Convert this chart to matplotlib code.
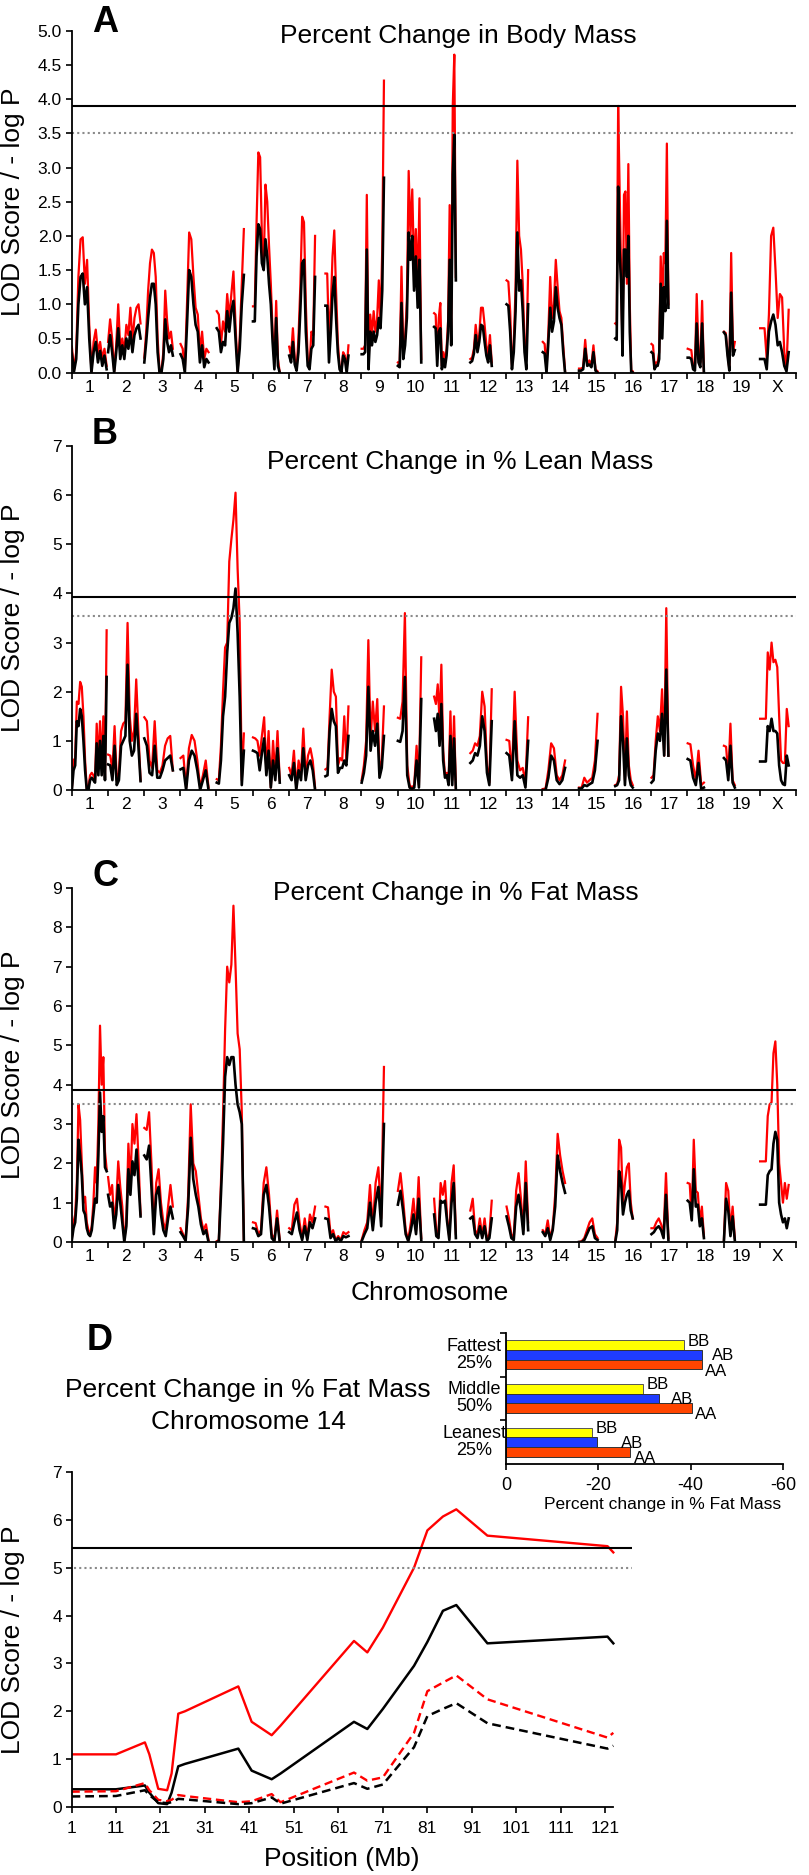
import numpy as np
import matplotlib
matplotlib.use("Agg")
import matplotlib.pyplot as plt

plt.rcParams['font.family'] = ['Liberation Sans', 'DejaVu Sans']
plt.rcParams['axes.unicode_minus'] = False

# --- Genome scan data (LOD per chromosome) ---
CHROMS = ['1', '2', '3', '4', '5', '6', '7', '8', '9', '10',
          '11', '12', '13', '14', '15', '16', '17', '18', '19', 'X']
CHR_LEN_MB = [195, 182, 160, 157, 152, 150, 145, 129, 125, 131,
              122, 120, 121, 125, 104, 98, 95, 91, 61, 160]

# A: percent change in body mass
A_RED = [
    [0.38, 0.05, 0.3, 1.4, 1.95, 1.98, 1.3, 1.65, 0.7, 0.02, 0.45, 0.63, 0.3, 0.45, 0.2, 0.35, 0.1],
    [0.45, 0.78, 0.5, 0.02, 0.4, 1.0, 0.35, 0.5, 0.3, 0.7, 0.55, 0.95, 0.45, 0.8, 0.95, 1.0, 0.72],
    [0.22, 0.6, 1.2, 1.6, 1.8, 1.75, 1.4, 0.5, 0.02, 0.02, 0.3, 1.2, 0.75, 0.5, 0.6, 0.35],
    [0.42, 0.35, 0.05, 1.0, 2.05, 1.95, 1.4, 0.95, 0.85, 0.3, 0.6, 0.2, 0.35, 0.3],
    [0.9, 0.85, 0.4, 0.75, 0.6, 1.15, 0.8, 1.15, 1.48, 0.7, 0.02, 0.5, 1.3, 2.1],
    [0.97, 0.97, 2.2, 3.22, 3.15, 2.0, 1.55, 2.75, 2.5, 1.85, 1.3, 0.6, 0.15, 1.05, 0.2, 0.0],
    [0.38, 0.25, 0.65, 0.2, 0.05, 0.5, 1.25, 2.28, 2.2, 1.0, 0.2, 0.1, 0.6, 0.55, 2.0],
    [1.45, 1.45, 0.5, 0.95, 1.7, 2.08, 1.2, 0.45, 0.1, 0.0, 0.3, 0.25, 0.05, 0.4],
    [0.35, 0.35, 0.4, 2.6, 0.15, 0.85, 0.55, 0.9, 0.6, 0.78, 1.35, 0.7, 1.8, 4.27],
    [0.15, 0.12, 1.55, 0.3, 0.5, 1.05, 2.95, 2.0, 2.68, 1.5, 2.1, 1.2, 2.55, 0.2],
    [0.87, 0.85, 0.2, 0.8, 1.02, 0.1, 0.3, 0.15, 0.35, 0.75, 2.45, 0.6, 3.9, 4.65, 1.4],
    [0.2, 0.22, 0.35, 0.7, 0.45, 0.55, 0.95, 0.95, 0.7, 0.4, 0.25, 0.55, 0.15],
    [1.35, 1.33, 0.9, 0.1, 0.4, 1.25, 3.1, 2.0, 1.8, 1.3, 0.4, 0.25, 1.5],
    [0.45, 0.42, 0.05, 0.6, 1.4, 0.8, 1.0, 1.65, 1.25, 0.9, 0.8, 0.4, 0.02],
    [0.06, 0.06, 0.08, 0.48, 0.12, 0.18, 0.1, 0.4, 0.05, 0.02],
    [0.72, 0.7, 3.9, 2.7, 1.5, 0.3, 2.6, 2.65, 1.3, 3.05, 1.0, 0.0, 0.02],
    [0.42, 0.4, 0.1, 0.15, 0.15, 0.3, 1.7, 1.0, 1.75, 1.6, 3.35, 1.0],
    [0.35, 0.34, 0.33, 0.1, 0.05, 1.15, 0.3, 0.15, 1.05, 0.02],
    [0.6, 0.58, 0.3, 0.05, 1.75, 0.3, 0.45],
    [0.65, 0.65, 0.65, 0.2, 0.85, 2.0, 2.12, 1.5, 0.8, 1.15, 1.1, 0.3, 0.05, 0.92],
]
A_BLACK = [
    [0.28, 0.02, 0.2, 1.0, 1.4, 1.45, 1.0, 1.25, 0.5, 0.0, 0.3, 0.45, 0.15, 0.32, 0.1, 0.25, 0.05],
    [0.3, 0.55, 0.3, 0.0, 0.3, 0.65, 0.2, 0.4, 0.2, 0.5, 0.35, 0.6, 0.3, 0.55, 0.65, 0.7, 0.5],
    [0.15, 0.45, 0.8, 1.1, 1.3, 1.3, 1.0, 0.3, 0.0, 0.0, 0.2, 0.78, 0.45, 0.3, 0.4, 0.25],
    [0.27, 0.2, 0.0, 0.7, 1.5, 1.4, 1.0, 0.7, 0.6, 0.15, 0.4, 0.08, 0.2, 0.15],
    [0.65, 0.6, 0.3, 0.45, 0.4, 0.9, 0.6, 0.9, 1.05, 0.5, 0.0, 0.35, 1.0, 1.43],
    [0.75, 0.75, 1.7, 2.17, 2.1, 1.6, 1.5, 1.95, 1.7, 1.3, 1.0, 0.45, 0.05, 0.8, 0.1, 0.0],
    [0.25, 0.15, 0.45, 0.12, 0.03, 0.3, 0.9, 1.6, 1.65, 0.6, 0.1, 0.05, 0.35, 0.4, 1.4],
    [0.98, 0.98, 0.15, 0.6, 1.15, 1.4, 0.8, 0.3, 0.05, 0.0, 0.25, 0.2, 0.0, 0.25],
    [0.27, 0.27, 0.3, 1.8, 0.05, 0.6, 0.4, 0.6, 0.45, 0.55, 0.8, 0.65, 1.2, 2.85],
    [0.1, 0.08, 1.02, 0.2, 0.4, 0.8, 2.05, 1.65, 2.0, 1.2, 1.7, 0.95, 1.65, 0.15],
    [0.67, 0.65, 0.1, 0.6, 0.65, 0.05, 0.2, 0.08, 0.25, 0.6, 1.65, 0.4, 2.9, 3.48, 1.35],
    [0.15, 0.17, 0.28, 0.55, 0.3, 0.45, 0.7, 0.68, 0.45, 0.25, 0.15, 0.4, 0.1],
    [1.0, 0.98, 0.6, 0.05, 0.3, 0.9, 2.05, 1.2, 1.35, 0.9, 0.3, 0.05, 1.0],
    [0.3, 0.28, 0.0, 0.45, 0.95, 0.6, 0.75, 1.25, 0.95, 0.8, 0.7, 0.3, 0.0],
    [0.03, 0.03, 0.05, 0.35, 0.1, 0.12, 0.08, 0.3, 0.03, 0.0],
    [0.5, 0.48, 2.72, 1.8, 1.3, 0.25, 1.8, 1.8, 1.4, 2.0, 0.6, 0.0, 0.0],
    [0.3, 0.28, 0.05, 0.1, 0.1, 0.2, 1.3, 0.5, 1.25, 0.9, 2.22, 0.95],
    [0.22, 0.22, 0.2, 0.05, 0.03, 0.72, 0.15, 0.08, 0.72, 0.0],
    [0.59, 0.55, 0.25, 0.03, 1.17, 0.25, 0.33],
    [0.2, 0.2, 0.2, 0.05, 0.6, 0.75, 0.85, 0.7, 0.4, 0.45, 0.3, 0.1, 0.02, 0.3],
]

# B: percent change in % lean mass
B_RED = [
    [0.02, 0.6, 0.65, 1.8, 1.75, 2.2, 2.1, 1.5, 0.6, 0.02, 0.05, 0.3, 0.35, 0.3, 0.2, 1.35, 0.5, 1.4, 0.5, 1.5, 0.25, 3.25],
    [0.72, 0.7, 0.4, 1.3, 0.2, 0.35, 1.2, 1.35, 1.4, 3.4, 1.5, 1.0, 1.2, 2.25, 1.2, 0.2],
    [1.48, 1.4, 0.6, 0.45, 1.4, 0.4, 0.35, 0.5, 0.9, 1.05, 1.1, 0.4],
    [0.65, 0.7, 0.05, 0.85, 1.12, 1.0, 0.6, 0.05, 0.3, 0.6, 0.05],
    [0.22, 0.2, 0.9, 2.0, 2.9, 3.0, 4.65, 5.1, 5.5, 6.05, 4.5, 3.4, 0.2, 1.15],
    [1.07, 1.05, 1.0, 0.7, 1.1, 1.48, 0.4, 1.2, 0.05, 1.0, 0.3, 1.2, 0.2],
    [0.45, 0.3, 0.8, 0.05, 0.6, 0.3, 1.25, 0.3, 0.7, 0.85, 0.6, 0.05],
    [0.42, 0.45, 1.5, 2.45, 2.0, 1.9, 0.5, 0.65, 0.6, 1.5, 0.6, 1.7],
    [0.2, 0.5, 1.0, 3.05, 1.0, 1.8, 1.2, 1.85, 0.4, 0.6, 1.7],
    [1.47, 1.45, 1.8, 3.6, 0.5, 0.1, 0.05, 0.1, 0.9, 0.1, 2.7],
    [1.9, 1.75, 2.15, 1.4, 2.55, 0.8, 0.3, 0.35, 0.2, 1.6, 0.2, 1.5, 0.05],
    [0.75, 0.8, 0.95, 0.9, 1.1, 2.0, 1.7, 0.5, 0.15, 2.05],
    [1.02, 1.0, 0.3, 2.0, 0.6, 0.4, 0.45, 0.15, 1.48],
    [0.02, 0.03, 0.4, 0.95, 0.85, 0.3, 0.2, 0.3, 0.6],
    [0.05, 0.05, 0.25, 0.15, 0.2, 0.25, 0.6, 1.55],
    [0.1, 0.12, 0.3, 2.1, 1.5, 0.2, 1.6, 0.5, 0.2, 0.1],
    [0.25, 0.3, 1.0, 1.5, 1.2, 2.05, 0.7, 3.7, 0.7],
    [0.95, 0.93, 0.5, 0.2, 0.8, 0.1, 0.15],
    [0.9, 0.88, 0.3, 1.35, 0.2, 0.1],
    [1.45, 1.45, 1.45, 1.45, 2.8, 2.45, 3.0, 2.6, 2.65, 2.5, 1.5, 0.6, 0.55, 0.55, 1.65, 1.3],
]
B_BLACK = [
    [0.0, 0.4, 0.5, 1.4, 1.3, 1.65, 1.5, 1.0, 0.4, 0.0, 0.0, 0.2, 0.25, 0.2, 0.15, 0.95, 0.3, 1.0, 0.3, 1.1, 0.2, 2.3],
    [0.52, 0.5, 0.2, 0.9, 0.1, 0.2, 0.9, 1.0, 1.1, 2.55, 1.0, 0.7, 0.8, 1.55, 0.9, 0.18],
    [1.05, 0.9, 0.35, 0.3, 0.9, 0.25, 0.25, 0.4, 0.6, 0.65, 0.7, 0.4],
    [0.42, 0.45, 0.0, 0.6, 0.8, 0.7, 0.4, 0.0, 0.2, 0.4, 0.0],
    [0.15, 0.13, 0.6, 1.5, 1.9, 2.8, 3.4, 3.5, 3.7, 4.1, 3.2, 1.9, 0.1, 0.8],
    [0.8, 0.78, 0.75, 0.4, 0.75, 1.05, 0.3, 0.8, 0.05, 0.6, 0.2, 0.85, 0.15],
    [0.3, 0.2, 0.55, 0.0, 0.4, 0.2, 0.85, 0.2, 0.5, 0.6, 0.4, 0.0],
    [0.28, 0.3, 1.2, 1.65, 1.4, 1.3, 0.35, 0.45, 0.45, 0.6, 0.5, 1.1],
    [0.15, 0.35, 0.7, 2.1, 0.8, 1.2, 0.9, 1.35, 0.25, 0.45, 1.1],
    [1.0, 0.98, 1.2, 2.3, 0.3, 0.05, 0.02, 0.05, 0.6, 0.05, 1.85],
    [1.45, 1.2, 1.55, 0.9, 1.75, 0.6, 0.25, 0.3, 0.1, 1.1, 0.1, 1.05, 0.0],
    [0.55, 0.6, 0.75, 0.7, 0.9, 1.5, 1.2, 0.35, 0.1, 1.4],
    [0.75, 0.7, 0.2, 1.4, 0.3, 0.25, 0.3, 0.05, 1.0],
    [0.0, 0.0, 0.25, 0.7, 0.6, 0.2, 0.12, 0.2, 0.45],
    [0.03, 0.03, 0.1, 0.08, 0.12, 0.15, 0.4, 1.0],
    [0.08, 0.1, 0.2, 1.5, 1.0, 0.1, 1.05, 0.3, 0.1, 0.05],
    [0.15, 0.2, 0.8, 1.15, 1.0, 1.55, 0.7, 2.45, 0.7],
    [0.63, 0.6, 0.25, 0.1, 0.55, 0.02, 0.05],
    [0.65, 0.6, 0.2, 0.9, 0.15, 0.05],
    [0.58, 0.58, 0.58, 0.58, 1.3, 1.2, 1.45, 1.2, 1.2, 1.15, 0.5, 0.2, 0.12, 0.1, 0.7, 0.5],
]

# C: percent change in % fat mass
C_RED = [
    [0.1, 0.5, 0.7, 1.5, 3.5, 3.1, 2.0, 1.0, 1.15, 0.5, 0.3, 0.2, 0.4, 1.0, 1.9, 1.5, 3.0, 5.5, 4.0, 4.7, 2.3, 1.85],
    [1.65, 1.2, 1.45, 0.5, 1.0, 2.05, 1.4, 0.9, 0.05, 0.5, 2.5, 1.5, 3.0, 2.5, 3.25, 2.1, 0.7],
    [2.9, 2.85, 3.3, 2.0, 0.3, 1.5, 1.85, 1.0, 0.5, 0.3, 0.9, 1.45, 0.9],
    [0.35, 0.2, 0.05, 1.2, 3.5, 2.0, 1.8, 1.2, 0.6, 0.3, 0.45, 0.05],
    [0.02, 0.05, 1.5, 3.2, 5.4, 7.0, 6.6, 7.05, 8.55, 7.0, 5.3, 4.9, 3.3, 0.05],
    [0.5, 0.48, 0.2, 0.3, 1.5, 1.9, 1.2, 0.2, 0.05, 0.8, 0.05],
    [0.35, 0.3, 0.95, 1.1, 0.5, 0.1, 0.6, 0.1, 0.7, 0.5, 0.9],
    [0.9, 0.88, 0.2, 0.3, 0.05, 0.15, 0.05, 0.25, 0.2, 0.25],
    [0.05, 0.3, 0.5, 1.45, 0.4, 1.5, 1.9, 0.6, 4.45],
    [1.3, 1.75, 1.1, 0.3, 0.05, 0.5, 1.1, 0.3, 1.65, 0.1],
    [1.1, 0.3, 0.2, 1.5, 1.2, 1.55, 0.6, 0.1, 1.5, 1.95, 0.2],
    [0.8, 1.1, 0.3, 0.2, 0.6, 0.15, 0.6, 0.05, 0.2, 1.05],
    [0.9, 0.6, 0.2, 0.1, 1.3, 1.75, 1.1, 0.3, 2.05, 0.5],
    [0.3, 0.2, 0.55, 0.1, 0.35, 1.2, 2.75, 2.2, 1.8, 1.5],
    [0.0, 0.02, 0.1, 0.3, 0.5, 0.6, 0.2, 0.1],
    [0.02, 0.5, 2.6, 2.4, 1.0, 1.5, 1.9, 2.0, 1.0, 0.6],
    [0.35, 0.35, 0.5, 0.6, 0.45, 0.2, 1.75, 0.1],
    [1.5, 1.48, 0.6, 2.6, 1.3, 1.25, 0.5, 0.9, 0.15],
    [0.05, 1.5, 1.3, 0.3, 0.9, 0.1],
    [2.05, 2.05, 2.05, 2.05, 3.2, 3.5, 3.55, 4.8, 5.1, 4.0, 2.0, 1.5, 1.0, 1.5, 1.1, 1.45],
]
C_BLACK = [
    [0.05, 0.35, 0.5, 1.1, 2.6, 2.2, 1.7, 0.8, 0.7, 0.35, 0.2, 0.15, 0.3, 0.7, 1.1, 1.0, 2.2, 3.8, 2.8, 3.2, 1.9, 1.8],
    [1.2, 0.9, 1.0, 0.35, 0.7, 1.45, 1.0, 0.5, 0.0, 0.4, 1.85, 1.2, 2.05, 1.7, 2.35, 1.5, 0.65],
    [2.2, 2.1, 2.45, 1.4, 0.2, 1.2, 1.4, 0.7, 0.3, 0.15, 0.6, 0.9, 0.6],
    [0.25, 0.15, 0.03, 0.9, 2.65, 1.6, 1.2, 0.9, 0.45, 0.2, 0.3, 0.0],
    [0.0, 0.02, 1.2, 2.5, 4.2, 4.7, 4.5, 4.7, 4.7, 4.0, 3.5, 3.3, 3.0, 0.0],
    [0.35, 0.33, 0.15, 0.2, 1.2, 1.45, 0.9, 0.1, 0.02, 0.6, 0.0],
    [0.25, 0.2, 0.5, 0.75, 0.3, 0.05, 0.4, 0.05, 0.5, 0.35, 0.6],
    [0.6, 0.58, 0.1, 0.2, 0.02, 0.1, 0.02, 0.15, 0.12, 0.15],
    [0.02, 0.2, 0.35, 1.0, 0.3, 1.0, 1.4, 0.4, 3.0],
    [0.95, 1.3, 0.8, 0.2, 0.02, 0.3, 0.7, 0.2, 1.1, 0.05],
    [0.7, 0.15, 0.1, 1.05, 1.0, 1.05, 0.5, 0.05, 1.0, 1.5, 0.1],
    [0.6, 0.65, 0.2, 0.1, 0.4, 0.1, 0.4, 0.02, 0.1, 0.6],
    [0.65, 0.4, 0.1, 0.05, 0.9, 1.2, 0.8, 0.2, 1.5, 0.3],
    [0.25, 0.15, 0.35, 0.05, 0.3, 0.9, 2.2, 1.8, 1.5, 1.25],
    [0.0, 0.0, 0.05, 0.2, 0.35, 0.4, 0.1, 0.05],
    [0.0, 0.3, 1.8, 1.5, 0.7, 1.0, 1.2, 1.3, 0.8, 0.6],
    [0.2, 0.25, 0.35, 0.4, 0.3, 0.1, 1.2, 0.05],
    [1.05, 1.0, 0.55, 1.85, 0.9, 0.95, 0.4, 0.6, 0.1],
    [0.02, 1.1, 0.8, 0.15, 0.65, 0.05],
    [0.95, 0.95, 0.95, 0.95, 1.7, 1.8, 1.85, 2.5, 2.8, 2.6, 1.0, 0.7, 0.5, 0.6, 0.35, 0.6],
]

# Thresholds (solid = significant, dotted = suggestive)
A_THRESH = (3.9, 3.5)
B_THRESH = (3.92, 3.55)
C_THRESH = (3.87, 3.51)
D_THRESH = (5.42, 5.0)

# D: chromosome 14 detail
D_POS_MB = [1, 11, 17.5, 18.5, 20.5, 22.5, 23.5, 25, 26.5, 38.5, 41.5, 46, 48,
            64.5, 67.5, 71, 78, 81, 84.5, 87.5, 94.5, 121.5, 122.8]
D_RED = [1.1, 1.1, 1.35, 1.1, 0.38, 0.35, 0.7, 1.95, 2.0, 2.52, 1.78, 1.5, 1.7,
         3.47, 3.23, 3.75, 5.0, 5.78, 6.07, 6.22, 5.67, 5.45, 5.32]
D_BLACK = [0.37, 0.37, 0.45, 0.3, 0.08, 0.06, 0.3, 0.85, 0.9, 1.22, 0.76, 0.58, 0.7,
           1.78, 1.63, 2.05, 2.95, 3.45, 4.1, 4.22, 3.42, 3.56, 3.42]
D_RED_DASH = [0.32, 0.33, 0.5, 0.35, 0.15, 0.12, 0.15, 0.25, 0.23, 0.1, 0.12, 0.27, 0.1,
              0.72, 0.55, 0.62, 1.55, 2.42, 2.6, 2.75, 2.25, 1.45, 1.55]
D_BLACK_DASH = [0.22, 0.23, 0.35, 0.25, 0.1, 0.08, 0.1, 0.17, 0.16, 0.06, 0.08, 0.2, 0.07,
                0.5, 0.38, 0.47, 1.25, 1.9, 2.05, 2.17, 1.75, 1.22, 1.28]
D_XTICKS = [1, 11, 21, 31, 41, 51, 61, 71, 81, 91, 101, 111, 121]

# Inset: percent change in % fat mass by genotype
GROUPS = ['Leanest\n25%', 'Middle\n50%', 'Fattest\n25%']
BB = [-18.6, -29.6, -38.5]
AB = [-19.7, -33.1, -42.4]
AA = [-26.9, -40.2, -42.4]

RED = '#ff0000'
GREY = '#8a8a8a'
W, H = 809, 1875

fig = plt.figure(figsize=(W / 100, H / 100), dpi=100)


def rect(l, t, r, b):
    return [l / W, 1 - b / H, (r - l) / W, (b - t) / H]


def ftext(x, y, s, **kw):
    fig.text(x / W, 1 - y / H, s, ha=kw.pop('ha', 'center'), va=kw.pop('va', 'center'), **kw)


def style_axes(ax):
    for s in ('top', 'right'):
        ax.spines[s].set_visible(False)
    for s in ('left', 'bottom'):
        ax.spines[s].set_linewidth(1.3)
    ax.tick_params(direction='out', length=4, width=1.2, labelsize=12.5, pad=3)


def scan_panel(ax, red, black, ymax, yfmt, thresh):
    for i in range(len(CHROMS)):
        span = 0.01 + 0.96 * CHR_LEN_MB[i] / CHR_LEN_MB[0]
        for vals, col, lw in ((red[i], RED, 1.6), (black[i], 'black', 1.9)):
            xs = i + np.linspace(0.01, span, len(vals))
            ax.plot(xs, vals, color=col, lw=lw, solid_joinstyle='round')
    ax.axhline(thresh[0], color='black', lw=1.5)
    ax.axhline(thresh[1], color=GREY, lw=1.5, ls=(0, (1, 1.5)))
    ax.set_xlim(0, 20)
    ax.set_ylim(0, ymax)
    style_axes(ax)
    ax.set_xticks(range(21))
    ax.set_xticklabels([])
    ax.set_xticks(np.arange(20) + 0.5, minor=True)
    ax.set_xticklabels(CHROMS, minor=True)
    ax.tick_params(axis='x', which='minor', length=0, pad=5, labelsize=12.5)
    step = 0.5 if ymax == 5 else 1
    ticks = np.arange(0, ymax + 0.01, step)
    ax.set_yticks(ticks)
    ax.set_yticklabels([yfmt.format(t) for t in ticks])


axA = fig.add_axes(rect(71.5, 30.7, 796, 372.7))
scan_panel(axA, A_RED, A_BLACK, 5, '{:.1f}', A_THRESH)
axB = fig.add_axes(rect(71.5, 446, 796, 790))
scan_panel(axB, B_RED, B_BLACK, 7, '{:.0f}', B_THRESH)
axC = fig.add_axes(rect(71.5, 888, 796, 1242))
scan_panel(axC, C_RED, C_BLACK, 9, '{:.0f}', C_THRESH)

# Panel D main plot
axD = fig.add_axes(rect(71.5, 1472, 632, 1807))
axD.plot(D_POS_MB, D_RED, color=RED, lw=1.7)
axD.plot(D_POS_MB, D_BLACK, color='black', lw=1.8)
axD.plot(D_POS_MB, D_RED_DASH, color=RED, lw=1.7, ls=(0, (3.5, 2)))
axD.plot(D_POS_MB, D_BLACK_DASH, color='black', lw=1.8, ls=(0, (3.5, 2)))
axD.plot([1, 127], [D_THRESH[0]] * 2, color='black', lw=1.5)
axD.plot([1.5, 127], [D_THRESH[1]] * 2, color=GREY, lw=1.5, ls=(0, (1, 1.5)))
axD.set_xlim(1, 127)
axD.set_ylim(0, 7)
style_axes(axD)
axD.spines['bottom'].set_bounds(1, 122.8)
axD.set_xticks(D_XTICKS)
axD.set_yticks(range(8))
axD.tick_params(axis='x', pad=6)

# Inset bar chart
axI = fig.add_axes(rect(506, 1333, 783, 1464))
yc = np.arange(len(GROUPS)) + 0.5
bh = 0.223
axI.barh(yc + bh, BB, height=bh, color='#ffff00', edgecolor='#555555', lw=0.7)
axI.barh(yc, AB, height=bh, color='#1f3cff', edgecolor='#333333', lw=0.7)
axI.barh(yc - bh, AA, height=bh, color='#ff4500', edgecolor='#333333', lw=0.7)
for k in range(len(GROUPS)):
    axI.text(BB[k] - 0.8, yc[k] + bh + 0.09, 'BB', fontsize=12, ha='left', va='center')
    axI.text(BB[k] - 6.2, yc[k] - 0.02, 'AB', fontsize=12, ha='left', va='center')
    axI.text(AA[k] - 0.8, yc[k] - bh - 0.15, 'AA', fontsize=12, ha='left', va='center')
axI.set_xlim(0, -60)
axI.set_ylim(0, 3)
style_axes(axI)
axI.set_xticks([0, -20, -40, -60])
axI.set_yticks([1, 2, 3])
axI.set_yticklabels([])
axI.tick_params(labelsize=13, pad=5)
for k, g in enumerate(GROUPS):
    ftext(474, 1464 - (k + 0.5) * 43.7, g, fontsize=13, linespacing=1.0)
ftext(663, 1505, 'Percent change in % Fat Mass', fontsize=12.5)

# Titles, panel letters, axis labels
ftext(105, 23, 'A', fontsize=26, fontweight='bold')
ftext(105, 435, 'B', fontsize=26, fontweight='bold')
ftext(105, 877, 'C', fontsize=26, fontweight='bold')
ftext(100, 1341, 'D', fontsize=26, fontweight='bold')
ftext(458, 36, 'Percent Change in Body Mass', fontsize=19)
ftext(460, 462, 'Percent Change in % Lean Mass', fontsize=19)
ftext(456, 893, 'Percent Change in % Fat Mass', fontsize=19)
ftext(248, 1390, 'Percent Change in % Fat Mass', fontsize=19)
ftext(248, 1422, 'Chromosome 14', fontsize=19)
ftext(430, 1293, 'Chromosome', fontsize=19)
ftext(342, 1859, 'Position (Mb)', fontsize=19)
for yc_px in (201.7, 618, 1065, 1639.5):
    ftext(13, yc_px, 'LOD Score / - log P', fontsize=19, rotation=90)

fig.savefig('out.png', dpi=100)
